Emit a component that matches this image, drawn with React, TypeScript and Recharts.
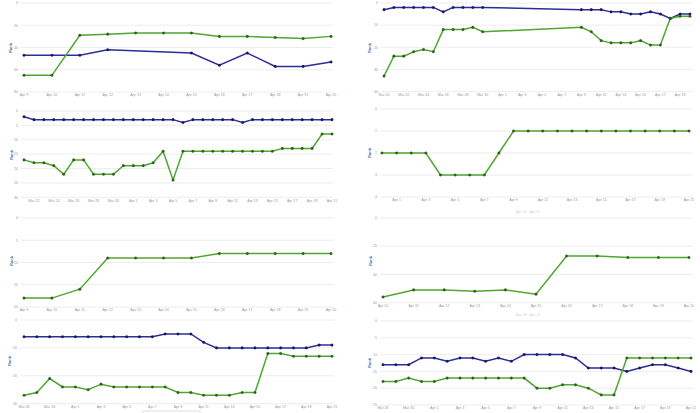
import React from 'react';
import { LineChart, Line, XAxis, YAxis, CartesianGrid } from 'recharts';

const BLUE = '#2d2d9c';
const BLUE_DOT = '#17175c';
const GREEN = '#4fa72f';
const GREEN_DOT = '#2b5f1d';
const TICK_FILL = '#9a9a9a';
const FONT = '"Liberation Sans", Arial, sans-serif';

// --- panel 1 (top left)
const p1Dates = ['Apr 9', 'Apr 10', 'Apr 11', 'Apr 12', 'Apr 13', 'Apr 14', 'Apr 15', 'Apr 16', 'Apr 17', 'Apr 18', 'Apr 19', 'Apr 20'];
const p1Blue = [47, 47, 47, 42, null, null, 45, 56, 45, 57, 57, 53];
const p1Green = [65, 65, 29, 28, 27, 27, 27, 30, 30, 31, 32, 30];
const p1Ticks = [0, 20, 40, 60, 80];

// --- panel 2 (top right)
const p2Dates = [
  'Mar 20', 'Mar 21', 'Mar 22', 'Mar 23', 'Mar 24', 'Mar 25', 'Mar 26', 'Mar 27', 'Mar 28', 'Mar 29', 'Mar 30', 'Mar 31',
  'Apr 1', 'Apr 2', 'Apr 3', 'Apr 4', 'Apr 5', 'Apr 6', 'Apr 7', 'Apr 8', 'Apr 9', 'Apr 10', 'Apr 11', 'Apr 12',
  'Apr 13', 'Apr 14', 'Apr 15', 'Apr 16', 'Apr 17', 'Apr 18', 'Apr 19', 'Apr 20',
];
const p2Blue = [3, 2, 2, 2, 2, 2, 4, 2, 2, 2, 2, null, null, null, null, null, null, null, null, null, 3, 3, 3, 4, 4, 5, 5, 4, 5, 7, 5, 5];
const p2Green = [33, 24, 24, 22, 21, 22, 12, 12, 12, 11, 13, null, null, null, null, null, null, null, null, null, 11, 13, 17, 18, 18, 18, 17, 19, 19, 7, 6, 6];
const p2Ticks = [0, 10, 20, 30, 40];

// --- panel 3 (second row left)
const p3Dates = [
  'Mar 21', 'Mar 22', 'Mar 23', 'Mar 24', 'Mar 25', 'Mar 26', 'Mar 27', 'Mar 28', 'Mar 29', 'Mar 30', 'Mar 31',
  'Apr 1', 'Apr 2', 'Apr 3', 'Apr 4', 'Apr 5', 'Apr 6', 'Apr 7', 'Apr 8', 'Apr 9', 'Apr 10', 'Apr 11', 'Apr 12',
  'Apr 13', 'Apr 14', 'Apr 15', 'Apr 16', 'Apr 17', 'Apr 18', 'Apr 19', 'Apr 20', 'Apr 21',
];
const p3Blue = [2, 3, 3, 3, 3, 3, 3, 3, 3, 3, 3, 3, 3, 3, 3, 3, 4, 3, 3, 3, 3, 3, 4, 3, 3, 3, 3, 3, 3, 3, 3, 3];
const p3Green = [17, 18, 18, 19, 22, 17, 17, 22, 22, 22, 19, 19, 19, 18, 14, 24, 14, 14, 14, 14, 14, 14, 14, 14, 14, 14, 13, 13, 13, 13, 8, 8];
const p3Ticks = [0, 5, 10, 15, 20, 25, 30];

// --- panel 4 (second row right)
const p4Dates = [
  'Mar 31', 'Apr 1', 'Apr 2', 'Apr 3', 'Apr 4', 'Apr 5', 'Apr 6', 'Apr 7', 'Apr 8', 'Apr 9', 'Apr 10',
  'Apr 11', 'Apr 12', 'Apr 13', 'Apr 14', 'Apr 15', 'Apr 16', 'Apr 17', 'Apr 18', 'Apr 19', 'Apr 20', 'Apr 21',
];
const p4Green = [2, 2, 2, 2, 3, 3, 3, 3, 2, 1, 1, 1, 1, 1, 1, 1, 1, 1, 1, 1, 1, 1];
const p4Ticks = [0, 1, 2, 3, 4];

// --- panel 5 (third row left)
const p5Dates = ['Apr 9', 'Apr 10', 'Apr 11', 'Apr 12', 'Apr 13', 'Apr 14', 'Apr 15', 'Apr 16', 'Apr 17', 'Apr 18', 'Apr 19', 'Apr 20'];
const p5Green = [18, 18, 16, 9, 9, 9, 9, 8, 8, 8, 8, 8];
const p5Ticks = [0, 5, 10, 15, 20];

// --- panel 6 (third row right)
const p6Dates = ['Apr 10', 'Apr 11', 'Apr 12', 'Apr 13', 'Apr 14', 'Apr 15', 'Apr 16', 'Apr 17', 'Apr 18', 'Apr 19', 'Apr 20'];
const p6Green = [56, 51, 51, 52, 51, 54, 27, 27, 28, 28, 28];
const p6Ticks = [0, 20, 40, 60];

// --- panel 7 (bottom left)
const p7Dates = [
  'Mar 28', 'Mar 29', 'Mar 30', 'Mar 31', 'Apr 1', 'Apr 2', 'Apr 3', 'Apr 4', 'Apr 5', 'Apr 6', 'Apr 7', 'Apr 8', 'Apr 9',
  'Apr 10', 'Apr 11', 'Apr 12', 'Apr 13', 'Apr 14', 'Apr 15', 'Apr 16', 'Apr 17', 'Apr 18', 'Apr 19', 'Apr 20', 'Apr 21',
];
const p7Blue = [6, 6, 6, 6, 6, 6, 6, 6, 6, 6, 6, 5, 5, 5, 8, 10, 10, 10, 10, 10, 10, 10, 10, 9, 9];
const p7Green = [27, 26, 21, 24, 24, 25, 23, 24, 24, 24, 24, 24, 26, 26, 27, 27, 27, 26, 26, 12, 12, 13, 13, 13, 13];
const p7Ticks = [0, 10, 20, 30];

// --- panel 8 (bottom right)
const p8Dates = p7Dates;
const p8Blue = [13, 13, 13, 11, 11, 12, 11, 11, 12, 11, 12, 10, 10, 10, 10, 11, 14, 14, 14, 15, 14, 13, 13, 14, 15];
const p8Green = [18, 18, 17, 18, 18, 17, 17, 17, 17, 17, 17, 17, 20, 20, 19, 19, 20, 22, 22, 11, 11, 11, 11, 11, 11];
const p8Ticks = [0, 5, 10, 15, 20, 25];

type Series = (number | null)[];

interface PanelProps {
  dates: string[];
  blue?: Series;
  green: Series;
  yTicks: number[];
  labelEvery: 'all' | 'even' | 'odd';
  connect?: boolean;
  left: number;
  plotLeft: number;
  plotRight: number;
  gridTop: number;
  gridBottom: number;
  padL: number;
  padR: number;
}

const RankPanel: React.FC<PanelProps> = (p) => {
  const data = p.dates.map((d, i) => ({
    date: d,
    blue: p.blue ? p.blue[i] : null,
    green: p.green[i],
  }));
  const width = 350;
  const top = p.gridTop - 2;
  const height = p.gridBottom - p.gridTop + 2 + 8;
  const xTicks =
    p.labelEvery === 'all'
      ? p.dates
      : p.dates.filter((_, i) => i % 2 === (p.labelEvery === 'even' ? 0 : 1));
  const tickStyle = { fontSize: 3.6, fill: TICK_FILL, fontFamily: FONT };

  return (
    <div style={{ position: 'absolute', left: p.left, top }}>
      <LineChart
        width={width}
        height={height}
        data={data}
        margin={{ top: 2, right: width - (p.plotRight - p.left), bottom: 0, left: 0 }}
      >
        <CartesianGrid vertical={false} stroke="#e0e0e0" strokeWidth={0.6} />
        <XAxis
          dataKey="date"
          ticks={xTicks}
          interval={0}
          tickLine={false}
          axisLine={false}
          tickSize={0}
          tickMargin={1.7}
          height={8}
          padding={{ left: p.padL, right: p.padR }}
          tick={tickStyle}
        />
        <YAxis
          reversed
          domain={[p.yTicks[0], p.yTicks[p.yTicks.length - 1]]}
          ticks={p.yTicks}
          interval={0}
          width={p.plotLeft - p.left}
          tickLine={false}
          axisLine={false}
          tickSize={0}
          tickMargin={3}
          tick={tickStyle}
        />
        {p.blue && (
          <Line
            dataKey="blue"
            stroke={BLUE}
            strokeWidth={1.5}
            dot={{ r: 1.3, fill: BLUE_DOT, stroke: BLUE_DOT, strokeWidth: 0.3 }}
            activeDot={false}
            connectNulls={p.connect}
            isAnimationActive={false}
          />
        )}
        <Line
          dataKey="green"
          stroke={GREEN}
          strokeWidth={1.5}
          dot={{ r: 1.3, fill: GREEN_DOT, stroke: GREEN_DOT, strokeWidth: 0.3 }}
          activeDot={false}
          connectNulls={p.connect}
          isAnimationActive={false}
        />
      </LineChart>
    </div>
  );
};

// centres of the rotated "Rank" axis titles
const rankTitles = [
  [11, 48], [370, 48], [12, 155], [370, 153],
  [12, 261], [371, 261], [10, 361], [370, 363],
];

export default function App() {
  return (
    <div
      style={{
        position: 'absolute',
        left: 0,
        top: 0,
        width: 700,
        height: 413,
        overflow: 'hidden',
        background: '#fff',
        fontFamily: FONT,
      }}
    >
      <RankPanel dates={p1Dates} blue={p1Blue} green={p1Green} yTicks={p1Ticks} labelEvery="all" connect
        left={0} plotLeft={21} plotRight={333} gridTop={3.3} gridBottom={92.3} padL={3} padR={2} />
      <RankPanel dates={p2Dates} blue={p2Blue} green={p2Green} yTicks={p2Ticks} labelEvery="even" connect
        left={350} plotLeft={381} plotRight={693} gridTop={2.7} gridBottom={91.3} padL={3} padR={3} />
      <RankPanel dates={p3Dates} blue={p3Blue} green={p3Green} yTicks={p3Ticks} labelEvery="odd"
        left={0} plotLeft={21} plotRight={333} gridTop={111} gridBottom={197.3} padL={3} padR={1} />
      <RankPanel dates={p4Dates} green={p4Green} yTicks={p4Ticks} labelEvery="odd"
        left={350} plotLeft={380} plotRight={693} gridTop={109.3} gridBottom={197.3} padL={2} padR={4} />
      <RankPanel dates={p5Dates} green={p5Green} yTicks={p5Ticks} labelEvery="all"
        left={0} plotLeft={21} plotRight={334} gridTop={217.7} gridBottom={306.7} padL={3} padR={3} />
      <RankPanel dates={p6Dates} green={p6Green} yTicks={p6Ticks} labelEvery="all"
        left={350} plotLeft={380} plotRight={693} gridTop={217.7} gridBottom={302.3} padL={3} padR={4} />
      <RankPanel dates={p7Dates} blue={p7Blue} green={p7Green} yTicks={p7Ticks} labelEvery="even"
        left={0} plotLeft={20} plotRight={334} gridTop={320.3} gridBottom={404} padL={4} padR={2} />
      <RankPanel dates={p8Dates} blue={p8Blue} green={p8Green} yTicks={p8Ticks} labelEvery="even"
        left={350} plotLeft={380} plotRight={693} gridTop={321.3} gridBottom={405.3} padL={3} padR={2} />

      <svg
        width={700}
        height={413}
        style={{ position: 'absolute', left: 0, top: 0, pointerEvents: 'none' }}
      >
        {rankTitles.map(([x, y], i) => (
          <text
            key={i}
            x={x}
            y={y}
            transform={`rotate(-90 ${x} ${y})`}
            textAnchor="middle"
            dominantBaseline="middle"
            fontSize={4}
            fontWeight="bold"
            fill="#4572a7"
            fontFamily={FONT}
          >
            Rank
          </text>
        ))}
        <text x={528} y={213} textAnchor="middle" fontSize={3.6} fill="#d2d2d2" fontFamily={FONT}>
          Apr 10 - Apr 20
        </text>
        <text x={528} y={316} textAnchor="middle" fontSize={3.6} fill="#d2d2d2" fontFamily={FONT}>
          Mar 28 - Apr 21
        </text>
        <rect x={143} y={411} width={57} height={4} fill="none" stroke="#d8d8d8" strokeWidth={0.8} />
      </svg>
    </div>
  );
}
